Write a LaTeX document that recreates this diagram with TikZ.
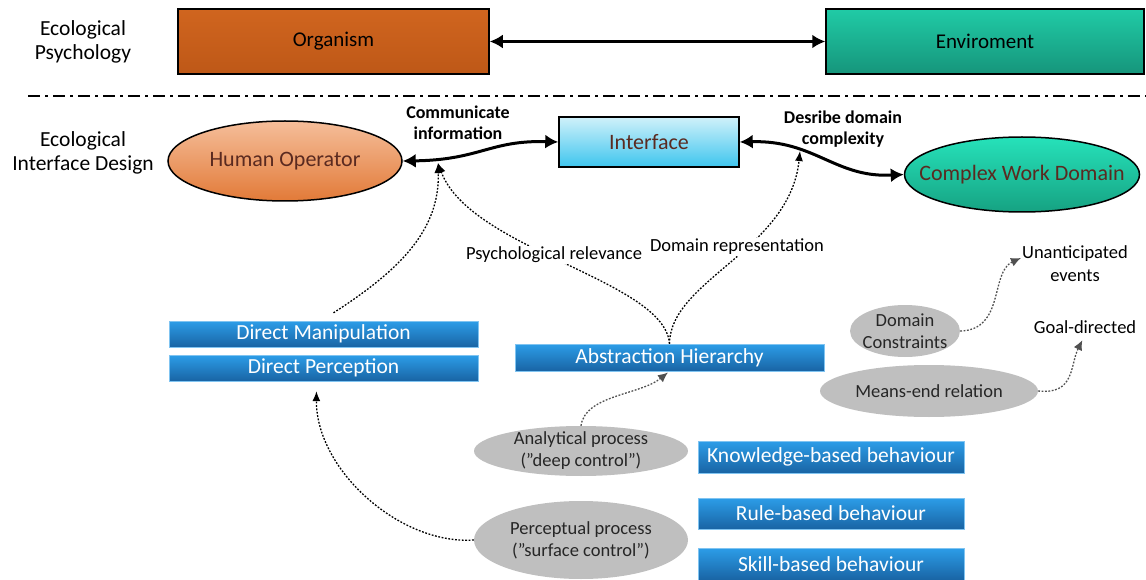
\documentclass[tikz,border=0pt]{standalone}
\usepackage{fontspec}
\setmainfont{Carlito}
\usetikzlibrary{arrows.meta,shapes.geometric,positioning}
\definecolor{orgA}{HTML}{D0651F}
\definecolor{orgB}{HTML}{BE5817}
\definecolor{envA}{HTML}{20CBA6}
\definecolor{envB}{HTML}{16957B}
\definecolor{hoA}{HTML}{F5BE9A}
\definecolor{hoB}{HTML}{E27A38}
\definecolor{ifA}{HTML}{D0F1FA}
\definecolor{ifB}{HTML}{3EC5EE}
\definecolor{cwdA}{HTML}{26E2BA}
\definecolor{cwdB}{HTML}{16A282}
\definecolor{blA}{HTML}{2C9DE8}
\definecolor{blB}{HTML}{1964A4}
\definecolor{grayfill}{HTML}{BFBFBF}
\definecolor{dtext}{HTML}{5A2A20}
\definecolor{darr}{HTML}{505050}
\tikzset{
  sectlabel/.style={align=center,font=\fontsize{21.5}{24}\selectfont},
  bigbox/.style={draw=black,line width=1.5pt,minimum width=#1,minimum height=65pt,inner sep=0pt,font=\fontsize{21}{25}\selectfont},
  bluebox/.style={minimum width=#1,inner sep=0pt,top color=blA,bottom color=blB,draw=blA!60!white,line width=0.4pt,text=white,font=\fontsize{21.5}{25}\selectfont},
  bigell/.style={ellipse,draw=black,line width=1.5pt,inner sep=0pt,label={[text=dtext,font=\fontsize{22}{26}\selectfont]center:#1}},
  grayell/.style={ellipse,fill=grayfill,inner sep=0pt,label={[align=center,font=\fontsize{18.5}{22}\selectfont,text=black!85]center:#1}},
  boldlab/.style={align=center,font=\bfseries\fontsize{18}{21}\selectfont},
  plainlab/.style={align=center,font=\fontsize{18.5}{23}\selectfont,inner sep=1pt},
  thickarr/.style={line width=3pt,{Latex[length=13pt,width=14pt]}-{Latex[length=13pt,width=14pt]}},
  dotarr/.style={line width=1.3pt,dash pattern=on 1.8pt off 1.6pt,-{Latex[length=10pt,width=8pt]}},
  graydot/.style={line width=1.3pt,dash pattern=on 1.8pt off 1.6pt,draw=darr,-{Latex[length=10pt,width=9pt]},darr}
}
\begin{document}
\begin{tikzpicture}[x=1pt,y=-1pt]
\useasboundingbox (0,0) rectangle (1146,580);
% top section
\node[sectlabel] (ep) at (83,42) {Ecological\\Psychology};
\node[bigbox=311pt,top color=orgA,bottom color=orgB] (org) at (333.5,41.5) {Organism};
\node[bigbox=318pt,top color=envA,bottom color=envB] (env) at (985,41.5) {Enviroment};
\draw[thickarr] (org.east) -- (env.west);
% separator
\coordinate (s1) at (28,96);
\coordinate (s2) at (1146,96);
\draw[line width=1.2pt,dash pattern=on 12pt off 5pt on 3pt off 5pt] (s1) -- (s2);
% EID section
\node[sectlabel] (eid) at (83,153) {Ecological\\Interface Design};
\node[bigell={Human Operator},top color=hoA,bottom color=hoB,minimum width=234pt,minimum height=80pt] (ho) at (285,161) {};
\node[draw=black,line width=1.5pt,top color=ifA,bottom color=ifB,minimum width=180pt,minimum height=50pt,inner sep=0pt,text=dtext,font=\fontsize{22}{26}\selectfont] (if) at (649,142) {Interface};
\node[bigell={Complex Work Domain},top color=cwdA,bottom color=cwdB,minimum width=235pt,minimum height=75pt] (cwd) at (1022,174.5) {};
\draw[thickarr] (ho.east) .. controls (480,160) and (490,140) .. (if.west);
\draw[thickarr] (if.east) .. controls (815,140) and (835,178) .. (cwd.west);
\node[boldlab] (ci) at (458,123) {Communicate\\information};
\node[boldlab] (dd) at (843,129) {Desribe domain\\complexity};
\coordinate (p1) at (438,163);
\coordinate (p2) at (800,151);
% blue boxes
\node[bluebox=309pt,minimum height=26pt] (dm) at (323.5,334) {Direct Manipulation};
\node[bluebox=309pt,minimum height=26pt] (dp) at (323.5,368) {Direct Perception};
\node[bluebox=309pt,minimum height=27pt] (ah) at (669.5,357.5) {Abstraction Hierarchy};
\node[bluebox=266pt,minimum height=32pt] (kb) at (831,457) {Knowledge-based behaviour};
\node[bluebox=266pt,minimum height=31pt] (rb) at (831,513.5) {Rule-based behaviour};
\node[bluebox=266pt,minimum height=32pt] (sb) at (831,564) {Skill-based behaviour};
% gray ellipses
\node[grayell={Domain\\Constraints},minimum width=110pt,minimum height=52pt] (dc) at (905,331) {};
\node[grayell={Means-end relation},minimum width=218pt,minimum height=52pt] (me) at (929,391) {};
\node[grayell={Analytical process\\(”deep control”)},minimum width=214pt,minimum height=50pt] (ap) at (581,451) {};
\node[grayell={Perceptual process\\(”surface control”)},minimum width=214pt,minimum height=78pt] (pp) at (581,540) {};
% plain labels
\node[plainlab] (ua) at (1075,264) {Unanticipated\\events};
\node[plainlab] (gd) at (1085,327) {Goal-directed};
% dotted connectors
\draw[dotarr] ([xshift=10pt,yshift=8pt]dm.north) .. controls (400,270) and (440,230) .. (p1);
\draw[dotarr] (ah.north) .. controls (665,280) and (470,250) .. (p1);
\draw[dotarr] (ah.north) .. controls (670,280) and (790,250) .. (p2);
\node[plainlab,fill=white] (psy) at (554,255) {Psychological relevance};
\node[plainlab,fill=white] (drep) at (737,247) {Domain representation};
\draw[dotarr,shorten >=10pt] (pp.west) .. controls (400,545) and (316,470) .. ([xshift=-7pt]dp.south);
\draw[graydot,shorten >=2pt] (ap.north) .. controls (585,395) and (640,395) .. (ah.south);
\draw[graydot] (dc.east) .. controls (1005,330) and (990,272) .. ([yshift=6pt]ua.west);
\draw[graydot,shorten >=6pt] (me.east) .. controls (1075,395) and (1070,365) .. (gd.south);
\end{tikzpicture}
\end{document}
